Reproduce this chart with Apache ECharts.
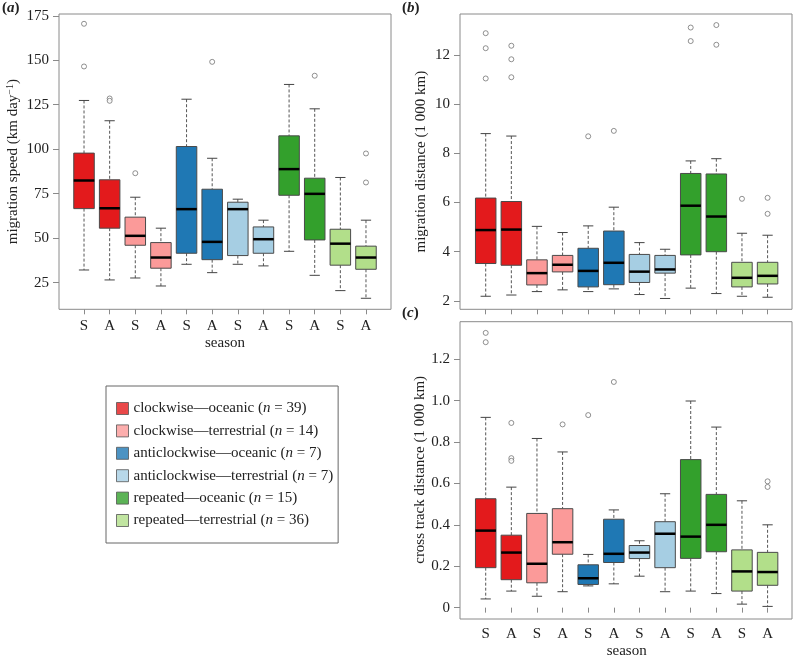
<!DOCTYPE html>
<html>
<head>
<meta charset="utf-8">
<script src="https://cdn.jsdelivr.net/npm/echarts@6/dist/echarts.min.js"></script>
<style>
html,body{margin:0;padding:0;background:#fff;}
#chart{width:794px;height:660px;}
</style>
</head>
<body>
<div id="chart"></div>
<script>
// ---------- data ----------
const seasons = ['S','A','S','A','S','A','S','A','S','A','S','A'];
const groupNames = ['clockwise—oceanic','clockwise—terrestrial','anticlockwise—oceanic','anticlockwise—terrestrial','repeated—oceanic','repeated—terrestrial'];
const groupN = [39, 14, 7, 7, 15, 36];

// (a) migration speed (km day-1)
const speedLow    = [32.1, 26.5, 27.6, 23.1, 35.3, 30.6, 35.3, 34.4, 42.6, 29.1, 20.5, 16.2];
const speedQ1     = [66.6, 55.6, 46.0, 33.1, 41.5, 37.9, 40.2, 41.5, 74.1, 49.0, 34.8, 32.5];
const speedMedian = [82.4, 66.8, 51.3, 39.1, 66.3, 47.9, 66.3, 49.4, 88.8, 74.9, 46.9, 39.1];
const speedQ3     = [97.8, 82.8, 61.8, 47.5, 101.5, 77.5, 70.2, 56.3, 107.5, 83.7, 55.0, 45.5];
const speedHigh   = [127.4, 116.0, 73.0, 55.6, 128.1, 94.9, 71.9, 60.1, 136.4, 122.7, 84.1, 60.1];
const speedOutliers = [[0,170.5],[0,146.5],[1,128.5],[1,127.2],[2,86.5],[5,149.1],[9,141.3],[11,97.6],[11,81.3]];
const speedTicks = [25, 50, 75, 100, 125, 150, 175];

// (b) migration distance (1 000 km)
const distLow    = [2.19, 2.24, 2.38, 2.45, 2.38, 2.49, 2.26, 2.10, 2.52, 2.30, 2.19, 2.15];
const distQ1     = [3.52, 3.45, 2.65, 3.18, 2.57, 2.66, 2.75, 3.13, 3.87, 4.00, 2.57, 2.69];
const distMedian = [4.88, 4.90, 3.13, 3.47, 3.22, 3.55, 3.19, 3.28, 5.87, 5.43, 2.94, 3.02];
const distQ3     = [6.18, 6.04, 3.67, 3.85, 4.14, 4.84, 3.89, 3.85, 7.18, 7.16, 3.57, 3.57];
const distHigh   = [8.80, 8.70, 5.03, 4.78, 5.05, 5.81, 4.37, 4.10, 7.69, 7.78, 4.75, 4.67];
const distOutliers = [[0,12.88],[0,12.27],[0,11.04],[1,12.37],[1,11.82],[1,11.09],[4,8.69],[5,8.91],[8,13.11],[8,12.56],[9,13.21],[9,12.41],[10,6.15],[11,6.19],[11,5.54]];
const distTicks = [2, 4, 6, 8, 10, 12];

// (c) cross track distance (1 000 km)
const crossLow    = [0.042, 0.080, 0.055, 0.077, 0.105, 0.115, 0.152, 0.077, 0.080, 0.068, 0.017, 0.006];
const crossQ1     = [0.193, 0.135, 0.120, 0.258, 0.112, 0.218, 0.237, 0.193, 0.238, 0.270, 0.080, 0.108];
const crossMedian = [0.372, 0.266, 0.212, 0.316, 0.142, 0.260, 0.266, 0.357, 0.343, 0.400, 0.175, 0.172];
const crossQ3     = [0.526, 0.350, 0.455, 0.478, 0.207, 0.427, 0.300, 0.415, 0.715, 0.547, 0.279, 0.267];
const crossHigh   = [0.919, 0.582, 0.817, 0.752, 0.257, 0.472, 0.323, 0.550, 0.998, 0.872, 0.516, 0.400];
const crossOutliers = [[0,1.327],[0,1.282],[1,0.892],[1,0.722],[1,0.709],[3,0.885],[4,0.930],[5,1.090],[11,0.610],[11,0.583]];
const crossTicks = [0, 0.2, 0.4, 0.6, 0.8, 1.0, 1.2];

// ---------- styles ----------
const groupColors = ['#E31A1C','#FB9A99','#1F78B4','#A6CEE3','#33A02C','#B2DF8A'];
const FONT = '"Liberation Serif", "DejaVu Serif", serif';
const TXT = '#222';
const FRAME = '#8a8a8a';

function boxData(lo, q1, md, q3, hi) {
  return seasons.map((s, i) => [i, lo[i], q1[i], md[i], q3[i], hi[i]]);
}

function renderBox(params, api) {
  const i = api.value(0);
  const lo = api.value(1), q1 = api.value(2), md = api.value(3), q3 = api.value(4), hi = api.value(5);
  const cx = api.coord([i, md])[0];
  const band = api.size([1, 0])[0];
  const half = band * 0.4, capHalf = band * 0.2;
  const y = v => api.coord([i, v])[1];
  const fill = groupColors[Math.floor(i / 2)];
  const dash = {stroke: '#555', lineWidth: 1, lineDash: [3, 2]};
  const cap = {stroke: '#444', lineWidth: 1};
  return {
    type: 'group',
    children: [
      {type: 'line', shape: {x1: cx, y1: y(hi), x2: cx, y2: y(q3)}, style: dash},
      {type: 'line', shape: {x1: cx, y1: y(q1), x2: cx, y2: y(lo)}, style: dash},
      {type: 'line', shape: {x1: cx - capHalf, y1: y(hi), x2: cx + capHalf, y2: y(hi)}, style: cap},
      {type: 'line', shape: {x1: cx - capHalf, y1: y(lo), x2: cx + capHalf, y2: y(lo)}, style: cap},
      {type: 'rect', shape: {x: cx - half, y: y(q3), width: 2 * half, height: y(q1) - y(q3)}, style: {fill: fill, stroke: '#4a4a4a', lineWidth: 1}},
      {type: 'line', shape: {x1: cx - half, y1: y(md), x2: cx + half, y2: y(md)}, style: {stroke: '#000', lineWidth: 2.5}}
    ]
  };
}

const gridInner = [
  {left: 71.2, top: 14, width: 307.6, height: 295.3},
  {left: 472.9, top: 14, width: 307.5, height: 295.3},
  {left: 472.9, top: 321.7, width: 307.5, height: 297.3}
];
const gridFrame = [
  {left: 59, top: 14, width: 332, height: 295.3},
  {left: 460, top: 14, width: 332, height: 295.3},
  {left: 460, top: 321.7, width: 332, height: 297.3}
];

function xAx(gi, showLabels) {
  return {
    type: 'category', gridIndex: gi, data: seasons, boundaryGap: true,
    axisLine: {show: false},
    axisTick: {show: true, alignWithLabel: true, length: 5, lineStyle: {color: FRAME}},
    axisLabel: {show: showLabels, interval: 0, margin: 9, color: TXT, fontFamily: FONT, fontSize: 15},
    name: showLabels ? 'season' : '', nameLocation: 'middle', nameGap: 26,
    nameTextStyle: {color: TXT, fontFamily: FONT, fontSize: 15},
    splitLine: {show: false}
  };
}
function yAx(gi, min, max, ticks, offset, name, nameGap, fmt) {
  return {
    type: 'value', gridIndex: gi, min: min, max: max, offset: offset,
    axisLine: {show: false},
    axisTick: {show: true, length: 6, lineStyle: {color: FRAME}, customValues: ticks},
    axisLabel: {show: true, margin: 10, color: TXT, fontFamily: FONT, fontSize: 15, customValues: ticks, formatter: fmt},
    splitLine: {show: false},
    name: name, nameLocation: 'middle', nameGap: nameGap,
    nameTextStyle: {color: TXT, fontFamily: FONT, fontSize: 15,
      rich: {n: {fontFamily: FONT, fontSize: 15, color: TXT}, s: {fontFamily: FONT, fontSize: 10, color: TXT, verticalAlign: 'top', padding: [0, 0, 6, 0]}}}
  };
}

const xAxes = [xAx(0, true), xAx(1, false), xAx(2, true)];
const yAxes = [
  yAx(0, 10, 176, speedTicks, 12.2, '{n|migration speed (km day}{s|−1}{n|)}', 38, v => String(v)),
  yAx(1, 1.66, 13.66, distTicks, 12.9, 'migration distance (1 000 km)', 31, v => String(v)),
  yAx(2, -0.05, 1.381, crossTicks, 12.9, 'cross track distance (1 000 km)', 31, v => (v === 0 ? '0' : v.toFixed(1)))
];
// frame grids with hidden axes
for (let k = 0; k < 3; k++) {
  xAxes.push({type: 'value', gridIndex: 3 + k, show: false});
  yAxes.push({type: 'value', gridIndex: 3 + k, show: false});
}

const grids = gridInner.map(g => Object.assign({show: false, containLabel: false}, g))
  .concat(gridFrame.map(g => Object.assign({show: true, borderColor: FRAME, borderWidth: 1, backgroundColor: 'transparent', containLabel: false}, g)));

function outlierSeries(gi, data) {
  return {
    type: 'scatter', xAxisIndex: gi, yAxisIndex: gi, data: data,
    symbol: 'circle', symbolSize: 5,
    itemStyle: {color: '#fff', borderColor: '#666', borderWidth: 0.9}, z: 3, silent: true
  };
}
function boxSeries(gi, data) {
  return {
    type: 'custom', xAxisIndex: gi, yAxisIndex: gi, data: data,
    encode: {x: 0, y: [1, 2, 3, 4, 5]},
    renderItem: renderBox, z: 2, silent: true
  };
}

const legendSeries = groupNames.map((nm, i) => ({
  type: 'scatter', name: nm, xAxisIndex: 0, yAxisIndex: 0, data: [],
  itemStyle: {color: groupColors[i], borderColor: '#555', borderWidth: 1}
}));

const titleRich = {
  p: {fontFamily: FONT, fontSize: 15, color: TXT},
  i: {fontFamily: FONT, fontSize: 15, fontStyle: 'italic', color: TXT}
};

const option = {
  animation: false,
  backgroundColor: '#fff',
  title: [
    {text: '{p|(}{i|a}{p|)}', left: 2, top: 1, padding: 0, textStyle: {rich: titleRich}},
    {text: '{p|(}{i|b}{p|)}', left: 402, top: 1, padding: 0, textStyle: {rich: titleRich}},
    {text: '{p|(}{i|c}{p|)}', left: 402, top: 306, padding: 0, textStyle: {rich: titleRich}}
  ],
  grid: grids,
  xAxis: xAxes,
  yAxis: yAxes,
  legend: {
    orient: 'vertical', left: 106, top: 386, padding: [15, 5, 15, 10],
    itemWidth: 12, itemHeight: 12, itemGap: 7.4, icon: 'rect',
    borderColor: '#666', borderWidth: 1, selectedMode: false,
    data: groupNames.map((nm, i) => ({name: nm, itemStyle: {color: groupColors[i], borderColor: '#555', borderWidth: 1}})),
    formatter: name => {
      const n = groupN[groupNames.indexOf(name)];
      return '{t|' + name + ' (}{i|n}{t| = ' + n + ')}';
    },
    textStyle: {
      fontFamily: FONT, fontSize: 15, color: TXT,
      rich: {
        t: {fontFamily: FONT, fontSize: 15, color: TXT, lineHeight: 14},
        i: {fontFamily: FONT, fontSize: 15, fontStyle: 'italic', color: TXT, lineHeight: 14}
      }
    }
  },
  series: [
    boxSeries(0, boxData(speedLow, speedQ1, speedMedian, speedQ3, speedHigh)),
    outlierSeries(0, speedOutliers),
    boxSeries(1, boxData(distLow, distQ1, distMedian, distQ3, distHigh)),
    outlierSeries(1, distOutliers),
    boxSeries(2, boxData(crossLow, crossQ1, crossMedian, crossQ3, crossHigh)),
    outlierSeries(2, crossOutliers)
  ].concat(legendSeries)
};

const chart = echarts.init(document.getElementById('chart'), null, {renderer: 'canvas'});
chart.setOption(option);
</script>
</body>
</html>
